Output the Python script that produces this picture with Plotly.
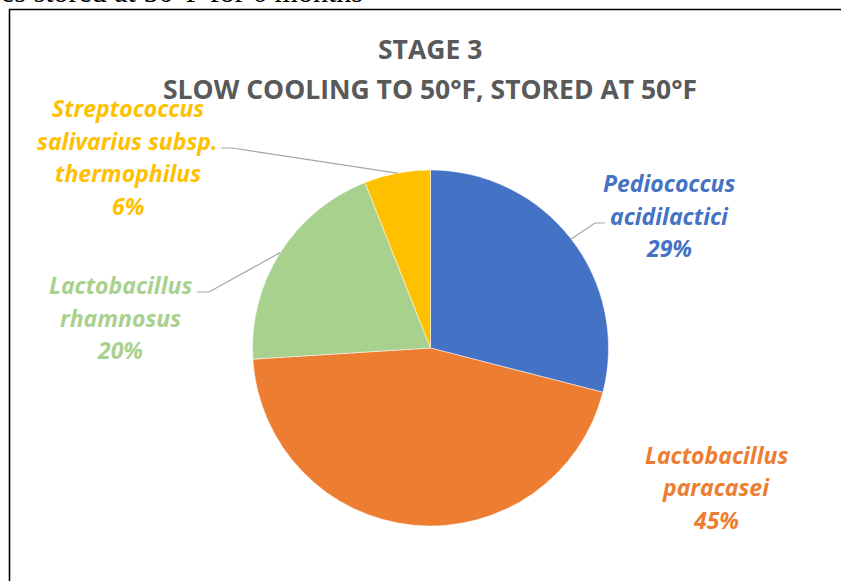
import math
import plotly.graph_objects as go

W, H = 841, 581

# data
species = ["Pediococcus acidilactici", "Lactobacillus paracasei",
           "Lactobacillus rhamnosus", "Streptococcus salivarius subsp. thermophilus"]
label_lines = [["Pediococcus", "acidilactici"],
               ["Lactobacillus", "paracasei"],
               ["Lactobacillus", "rhamnosus"],
               ["Streptococcus", "salivarius subsp.", "thermophilus"]]
shares = [29, 45, 20, 6]
colors = ["#4472C4", "#ED7D31", "#A9D18E", "#FFC000"]
title_lines = ["STAGE 3", "SLOW COOLING TO 50°F, STORED AT 50°F"]
caption = "es stored at 50°F for 6 months"

# layout (pixels)
cx, cy, r = 430.5, 348, 178
label_pos = [(669, 183), (716, 455), (120, 285), (128, 108)]   # centre x, first line y
leader = [[(605, 223), (595, 223)], None, [(197, 292), (209, 292)], [(221, 148), (232, 148)]]
line_gap = 32.5
FONT = "Open Sans"


def px(x):
    return x / W


def py(y):
    return 1 - y / H


fig = go.Figure(go.Pie(
    labels=species,
    values=shares,
    marker=dict(colors=colors, line=dict(color="white", width=0.5)),
    sort=False,
    direction="clockwise",
    rotation=0,
    textinfo="none",
    hoverinfo="label+percent",
    showlegend=False,
    domain=dict(x=[px(cx - r), px(cx + r)], y=[py(cy + r), py(cy - r)]),
))

annotations = []
shapes = []

# slice labels with leader lines
total = sum(shares)
cum = 0
for i, v in enumerate(shares):
    frac = (cum + v / 2) / total
    cum += v
    pct = f"{round(100 * v / total)}%"
    lx, ly = label_pos[i]
    for k, t in enumerate(label_lines[i] + [pct]):
        annotations.append(dict(
            x=px(lx), y=py(ly + k * line_gap), xref="paper", yref="paper",
            text=f"<b><i>{t}</i></b>", showarrow=False,
            xanchor="center", yanchor="middle",
            font=dict(family=FONT, size=23, color=colors[i]),
        ))
    if leader[i]:
        th = 2 * math.pi * frac
        ex = cx + r * math.sin(th)
        ey = cy - r * math.cos(th)
        (ax, ay), (bx, by) = leader[i]
        shapes.append(dict(
            type="path", xref="paper", yref="paper",
            path=f"M {px(ax)} {py(ay)} L {px(bx)} {py(by)} L {px(ex)} {py(ey)}",
            line=dict(color="#A5A5A5", width=1.2),
        ))

# title
for k, t in enumerate(title_lines):
    annotations.append(dict(
        x=px(430), y=py(49 + k * 40), xref="paper", yref="paper",
        text=f"<b>{t}</b>", showarrow=False, xanchor="center", yanchor="middle",
        font=dict(family=FONT, size=26.5, color="#595959"),
    ))

# clipped caption from the page above
annotations.append(dict(
    x=px(-1), y=py(-8), xref="paper", yref="paper", text=caption,
    showarrow=False, xanchor="left", yanchor="middle",
    font=dict(family="Liberation Serif", size=30, color="black"),
))

# frame borders
shapes.append(dict(type="line", xref="paper", yref="paper",
                   x0=px(9), x1=px(W + 5), y0=py(9.5), y1=py(9.5),
                   line=dict(color="black", width=1.6)))
shapes.append(dict(type="line", xref="paper", yref="paper",
                   x0=px(9.5), x1=px(9.5), y0=py(9), y1=py(H + 5),
                   line=dict(color="black", width=1.6)))

fig.update_layout(
    width=W, height=H,
    margin=dict(l=0, r=0, t=0, b=0),
    paper_bgcolor="white", plot_bgcolor="white",
    annotations=annotations, shapes=shapes,
)

fig.write_html("out.html", config={"displayModeBar": False},
               post_script="document.body.style.margin='0';")
